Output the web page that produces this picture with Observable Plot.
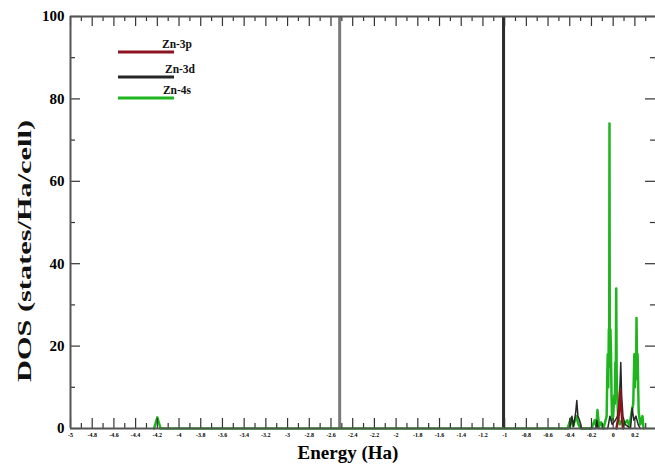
<!DOCTYPE html>
<html><head><meta charset="utf-8">
<script src="https://cdn.jsdelivr.net/npm/d3@7"></script>
<script src="https://cdn.jsdelivr.net/npm/@observablehq/plot@0.6"></script>
<style>body{margin:0;background:#fff}#chart{position:relative;width:655px;height:467px}</style>
</head><body><div id="chart"></div>
<script>
// Series names
const seriesNames = ["Zn-3p", "Zn-3d", "Zn-4s"];
// Zn-3p (energy, DOS)
const zn3pE = [0.03, 0.05, 0.06, 0.065, 0.072, 0.08, 0.09];
const zn3pV = [0, 3, 7, 9.3, 6, 3, 0];
// Zn-3d
const zn3dE = [-0.4, -0.38, -0.365, -0.345, -0.335, -0.325, -0.31, -0.29, -0.16, -0.15, -0.14, -0.05, -0.03, -0.01, 0.02, 0.04, 0.055, 0.065, 0.07, 0.078, 0.09, 0.11, 0.16, 0.175, 0.19, 0.21, 0.23, 0.25];
const zn3dV = [0, 3, 0.5, 4, 6.8, 3, 2, 0, 0, 2, 0, 0, 3, 1, 2, 3, 6, 12, 16, 8, 3, 1, 0, 5, 2, 3, 1, 0];
// Zn-4s
const zn4sE = [-4.23, -4.2, -4.17, -0.42, -0.39, -0.37, -0.34, -0.32, -0.3, -0.2, -0.17, -0.155, -0.145, -0.13, -0.11, -0.09, -0.06, -0.055, -0.05, -0.045, -0.04, -0.037, -0.034, -0.031, -0.028, -0.025, -0.02, -0.015, -0.01, 0, 0.01, 0.015, 0.02, 0.024, 0.028, 0.032, 0.035, 0.045, 0.06, 0.08, 0.1, 0.13, 0.15, 0.17, 0.185, 0.19, 0.195, 0.2, 0.205, 0.21, 0.215, 0.22, 0.225, 0.235, 0.25, 0.27, 0.28];
const zn4sV = [0, 2.7, 0, 0, 2.5, 0.5, 3, 1, 0, 0, 2, 0.5, 4.5, 0.5, 1.5, 0, 3, 12, 18, 10, 24, 15, 74, 16, 22, 24, 18, 8, 2, 3, 8, 6, 16, 12, 34, 14, 10, 3, 1, 2, 1, 2, 0.5, 4, 6, 12, 18, 10, 14, 12, 26.8, 16, 18, 4, 1, 3, 0];
// Off-scale semicore levels (energy)
const deepE = [-2.52, -1.01];
// Axis ticks
const xMajor = d3.range(-5, 0.41, 0.2).map(v => +v.toFixed(2));
const xMinor = d3.range(-4.9, 0.41, 0.2).map(v => +v.toFixed(2));
const xLabels = d3.range(-5, 0.21, 0.2).map(v => +v.toFixed(2));
const yMajor = [0, 20, 40, 60, 80, 100];
const yMinor = [10, 30, 50, 70, 90];

const colors = {"Zn-3p": "#8c1420", "Zn-3d": "#262626", "Zn-4s": "#1fb51f"};
const deepColors = ["#7a7a7a", "#2a2a2a"];

const toRows = (E, V, s) => E.map((e, i) => ({e, v: V[i], s}));
const p3 = toRows(zn3pE, zn3pV, "Zn-3p");
const d3r = toRows(zn3dE, zn3dV, "Zn-3d");
const s4 = toRows(zn4sE, zn4sV, "Zn-4s");

const W = 655, H = 467, mL = 70, mR = 0, mT = 16, mB = 39;
const xDom = [-5, 0.39];
const pxPerX = (W - mL - mR) / (xDom[1] - xDom[0]);
const pxPerY = (H - mT - mB) / 100;
const tx = px => px / pxPerX, ty = px => px / pxPerY;
const serif = "'Liberation Serif', 'DejaVu Serif', serif";

const plot = Plot.plot({
  width: W, height: H,
  marginLeft: mL, marginRight: mR, marginTop: mT, marginBottom: mB,
  x: {domain: xDom},
  y: {domain: [0, 100]},
  style: {fontFamily: serif, fontWeight: "bold", background: "white"},
  marks: [
    Plot.ruleX(deepE, {x: d => d, y1: 0, y2: 100, stroke: (d, i) => deepColors[i], strokeWidth: 3}),
    Plot.line(s4, {x: "e", y: "v", stroke: colors["Zn-4s"], strokeWidth: 2.5}),
    Plot.line(d3r, {x: "e", y: "v", stroke: colors["Zn-3d"], strokeWidth: 1.5}),
    Plot.line(p3, {x: "e", y: "v", stroke: colors["Zn-3p"], strokeWidth: 2.5}),
    // inward ticks
    Plot.ruleX(xMajor, {x: d => d, y1: 0, y2: ty(10), stroke: "#333", strokeWidth: 1.2}),
    Plot.ruleX(xMinor, {x: d => d, y1: 0, y2: ty(5), stroke: "#333", strokeWidth: 1.2}),
    Plot.ruleX(xMajor, {x: d => d, y1: 100, y2: 100 - ty(10), stroke: "#333", strokeWidth: 1.2}),
    Plot.ruleX(xMinor, {x: d => d, y1: 100, y2: 100 - ty(5), stroke: "#333", strokeWidth: 1.2}),
    Plot.ruleY(yMajor, {y: d => d, x1: xDom[0], x2: xDom[0] + tx(10), stroke: "#333", strokeWidth: 1.2}),
    Plot.ruleY(yMinor, {y: d => d, x1: xDom[0], x2: xDom[0] + tx(5), stroke: "#333", strokeWidth: 1.2}),
    Plot.ruleY(yMajor, {y: d => d, x1: xDom[1], x2: xDom[1] - tx(10), stroke: "#333", strokeWidth: 1.2}),
    Plot.ruleY(yMinor, {y: d => d, x1: xDom[1], x2: xDom[1] - tx(5), stroke: "#333", strokeWidth: 1.2}),
    Plot.ruleX([xDom[0]], {stroke: "#555", strokeWidth: 2}),
    Plot.ruleY([0], {stroke: "#555", strokeWidth: 2}),
    Plot.ruleY([100], {stroke: "#555", strokeWidth: 2}),
    Plot.axisX(xLabels, {tickSize: 0, tickPadding: 4, fontSize: 6, fontWeight: "bold", label: null, tickFormat: d => String(d)}),
    Plot.axisY(yMajor, {tickSize: 0, tickPadding: 6, fontSize: 15, fontWeight: "bold", label: null}),
    Plot.text(["Energy (Ha)"], {frameAnchor: "bottom", dx: -15, dy: 30, fontSize: 19, fontWeight: "bold"})
  ]
});
document.getElementById("chart").appendChild(plot);

const svg = d3.select(plot);
// y-axis title
svg.append("text")
  .attr("transform", "translate(31,251) rotate(-90)")
  .attr("text-anchor", "middle")
  .attr("font-family", serif).attr("font-weight", "bold").attr("font-size", 19)
  .attr("textLength", 262).attr("lengthAdjust", "spacingAndGlyphs")
  .attr("fill", "#111")
  .text("DOS (states/Ha/cell)");

// legend inside the plot area
const leg = svg.append("g").attr("font-family", serif).attr("font-weight", "bold").attr("font-size", 11.5);
const legY = [52, 77, 98];
seriesNames.forEach((s, i) => {
  leg.append("line").attr("x1", 118).attr("x2", 174).attr("y1", legY[i]).attr("y2", legY[i])
    .attr("stroke", colors[s]).attr("stroke-width", 3);
  leg.append("text").attr("x", 177 + (i === 1 ? 3 : 0)).attr("y", legY[i] - 4).text(s).attr("fill", "#111");
});
</script></body></html>
